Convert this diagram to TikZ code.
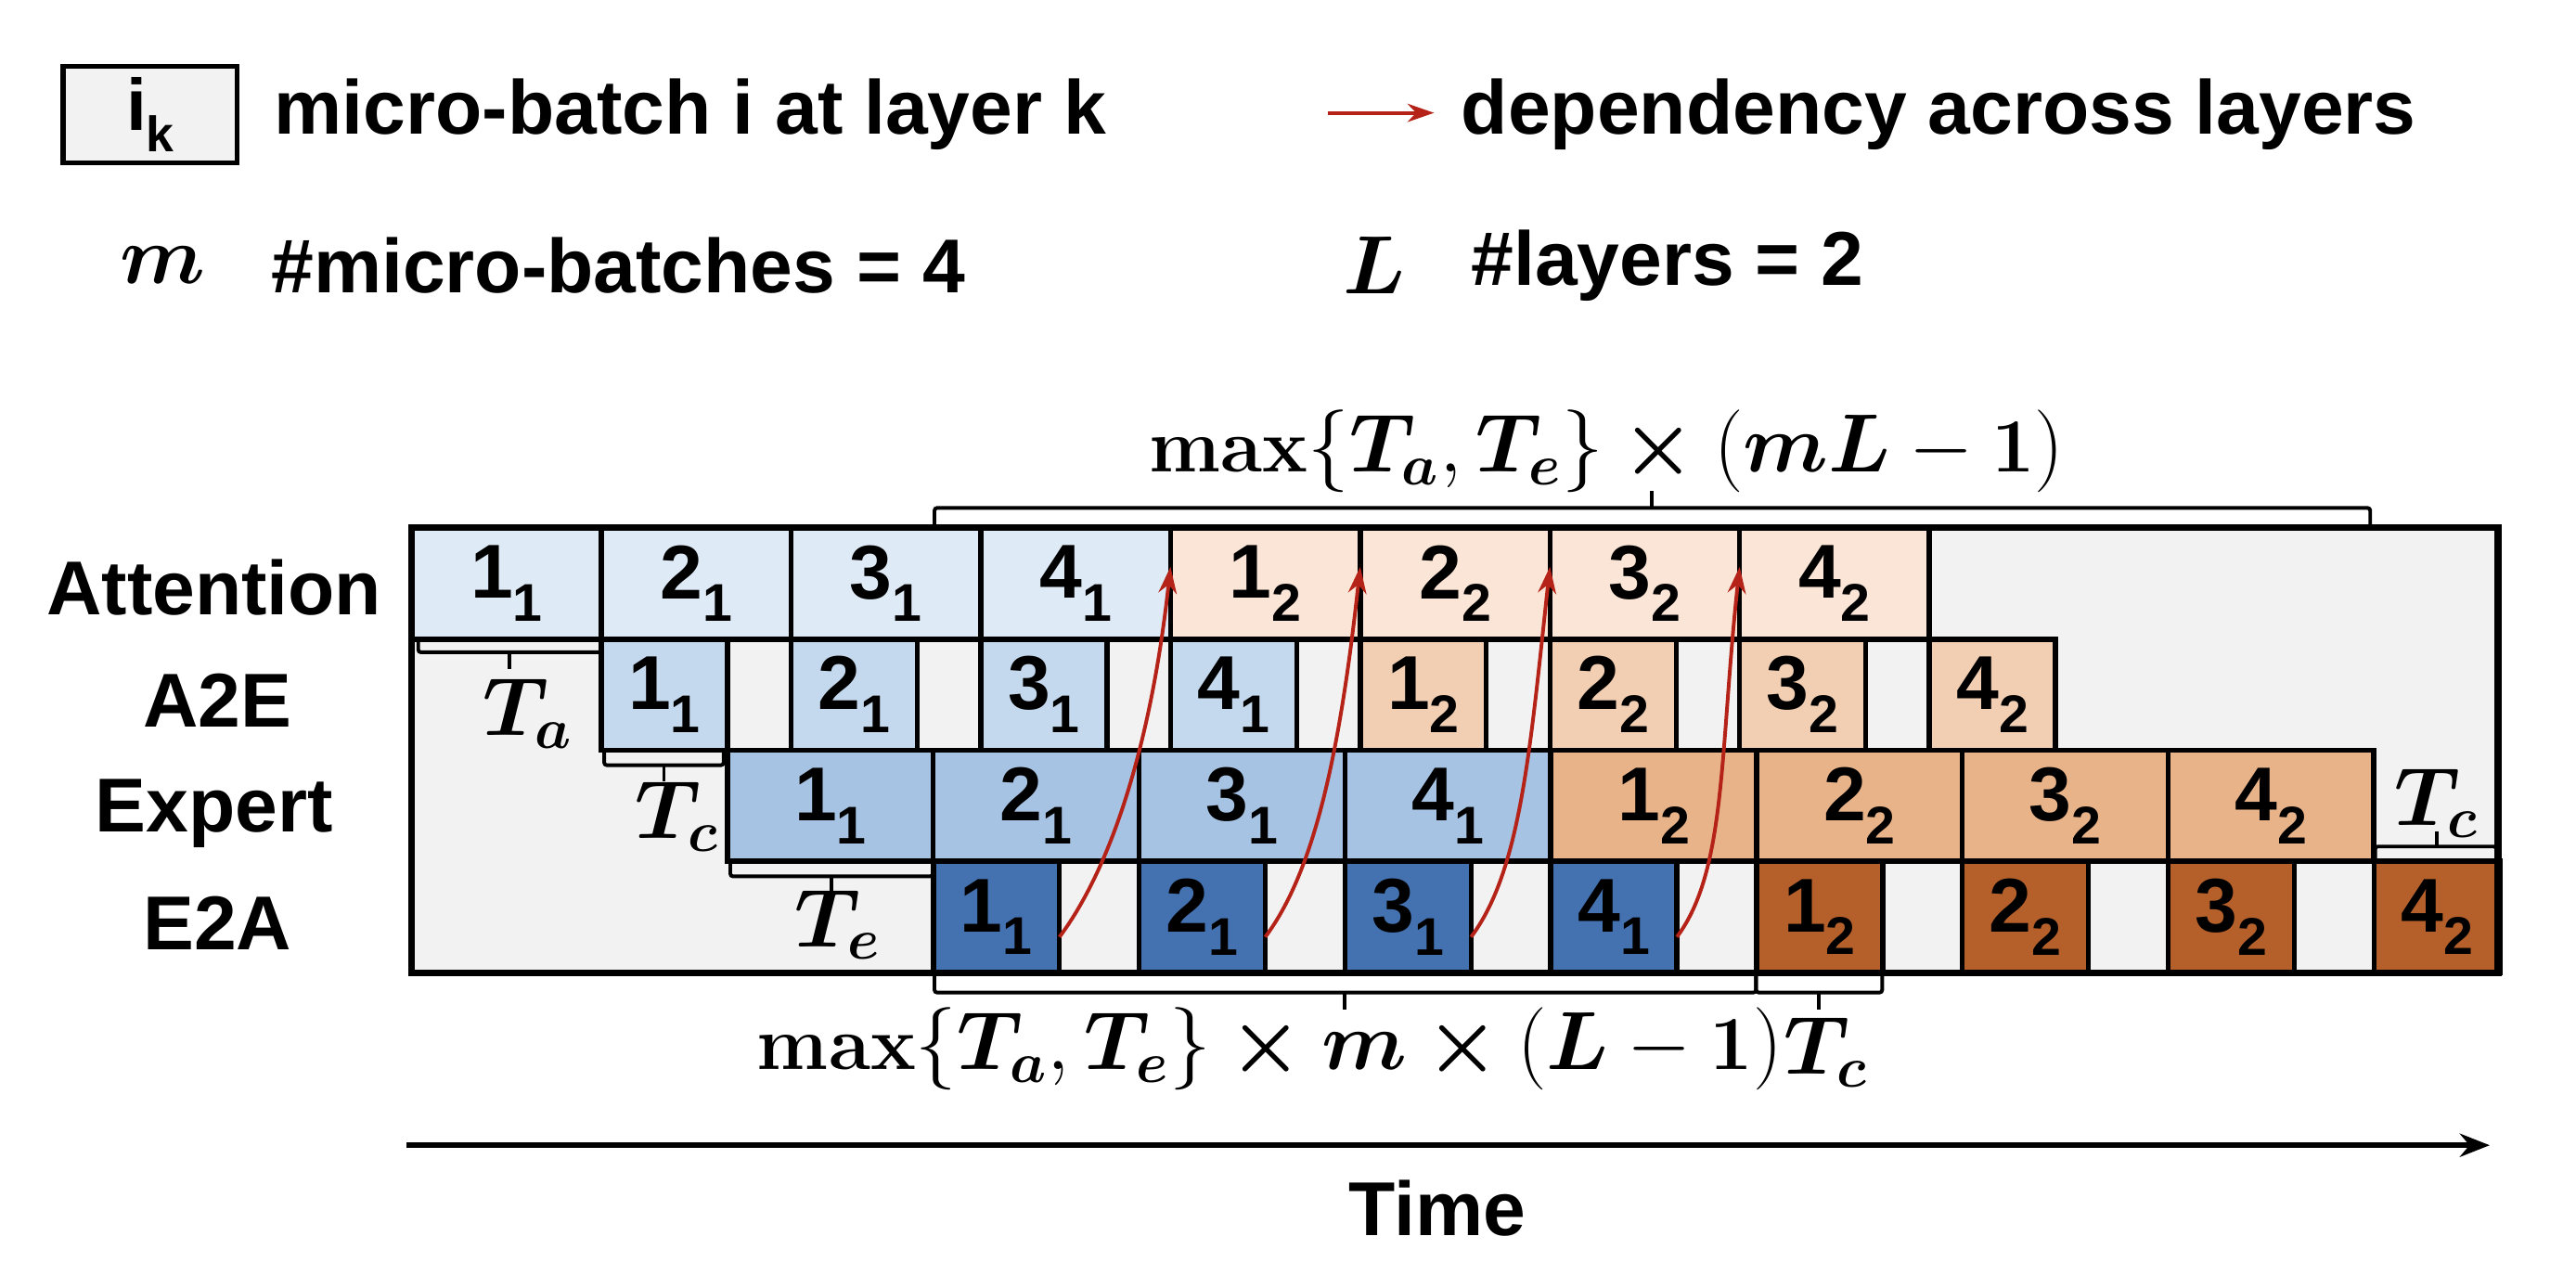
\documentclass[tikz,border=0pt]{standalone}
\usepackage{amsmath,bm}
\usepackage{fontspec}
\setmainfont{Liberation Sans}
\newfontfamily\lmr{Latin Modern Roman}
\usetikzlibrary{arrows.meta}
\definecolor{attA}{HTML}{DEEAF6}\definecolor{attB}{HTML}{FBE5D6}
\definecolor{aeA}{HTML}{C5D9EE}\definecolor{aeB}{HTML}{F2CFB3}
\definecolor{exA}{HTML}{A7C3E3}\definecolor{exB}{HTML}{E9B38A}
\definecolor{eaA}{HTML}{4472B0}\definecolor{eaB}{HTML}{B5602A}
\definecolor{bgg}{HTML}{F2F2F2}\definecolor{dep}{HTML}{B52217}
\newcommand{\lb}[2]{\fontsize{23}{23}\selectfont\bfseries #1\raisebox{-0.3em}{\fontsize{16}{16}\selectfont #2}}
\newcommand{\rb}[1]{\text{\lmr\bfseries #1}}
\begin{document}
\begin{tikzpicture}[x=0.5pt,y=-0.5pt,
  box/.style={draw=black,line width=1.5pt,inner sep=0pt,outer sep=0pt,minimum height=33.5pt,anchor=north west},
  row/.style={draw=black,line width=1.6pt},
  brk/.style={draw=black,line width=1.1pt,rounded corners=0.8pt},
  dar/.style={draw=dep,line width=1.1pt,-{Stealth[length=8pt,width=5.5pt]}},
  rl/.style={font=\fontsize{23}{23}\selectfont\bfseries},
  lt/.style={font=\fontsize{23}{23}\selectfont\bfseries,anchor=west,inner sep=0pt},
  ml/.style={font=\fontsize{23}{23}\selectfont}]
\useasboundingbox (0,0) rectangle (1552,760);
% frame
\path[fill=bgg] (248,318) rectangle (1505,586);
% rows
\foreach \i in {0,...,7}{
  \pgfmathtruncatemacro{\mb}{mod(\i,4)+1}
  \ifnum\i<4 \def\ly{1}\def\ca{attA}\def\cb{aeA}\def\cc{exA}\def\cd{eaA}
  \else \def\ly{2}\def\ca{attB}\def\cb{aeB}\def\cc{exB}\def\cd{eaB}\fi
  \node[box,fill=\ca,minimum width=57.15pt] (att\i) at ({248+114.3*\i},318) {\lb{\mb}{\ly}};
  \node[box,fill=\cb,minimum width=38pt] (ae\i) at ({362.3+114.3*\i},385) {\lb{\mb}{\ly}};
  \node[box,fill=\cc,minimum width=62pt] (ex\i) at ({438.3+124*\i},452) {\lb{\mb}{\ly}};
  \node[box,fill=\cd,minimum width=38pt] (ea\i) at ({562.3+124*\i},519) {\lb{\mb}{\ly}};
}
\draw[row] (362.3,385) rectangle (1238.4,452);
\draw[row] (438.3,452) rectangle (1430.3,519);
\draw[row] (562.3,519) rectangle (1506,586);
\draw[row] (248,318) rectangle (1162.4,385);
\draw[draw=black,line width=2pt] (248,318) rectangle (1505,586);
% dependency arrows
\foreach \i/\j in {0/4,1/5,2/6,3/7}{
  \draw[dar] ([yshift=-6pt]ea\i.east) .. controls +(30,-40) and +(-12,110) .. ([yshift=5pt]att\j.west);
}
% row labels
\node[rl] (lAtt) at (129,354) {Attention};
\node[rl] (lA2E) at (131,422) {A2E};
\node[rl] (lExp) at (129,490) {Expert};
\node[rl] (lE2A) at (131,556) {E2A};
% brackets
\draw[brk] (563,318) -- (563,306) -- (1428,306) -- (1428,318); \draw[brk] (995,306) -- (995,296);
\node[ml] (tmax) at (968,272) {$\rb{max}\{\bm{T_a},\bm{T_e}\}\boldsymbol{\times}(\bm{mL}-\rb{1})$};
\draw[brk] (252,386) -- (252,393) -- (362,393) -- (362,386); \draw[brk] (307,393) -- (307,403);
\node[ml] (ta) at (318,430) {$\bm{T_a}$};
\draw[brk] (364,453) -- (364,461) -- (436,461) -- (436,453); \draw[brk] (400,461) -- (400,471);
\node[ml] (tc1) at (408,492) {$\bm{T_c}$};
\draw[brk] (440,520) -- (440,528) -- (562,528) -- (562,520); \draw[brk] (501,528) -- (501,538);
\node[ml] (te) at (505,557) {$\bm{T_e}$};
\draw[brk] (563,587) -- (563,598) -- (1058,598) -- (1058,587); \draw[brk] (810,598) -- (810,608);
\node[ml] (tmax2) at (765,632) {$\rb{max}\{\bm{T_a},\bm{T_e}\}\boldsymbol{\times}\bm{m}\boldsymbol{\times}(\bm{L}-\rb{1})$};
\draw[brk] (1058,587) -- (1058,598) -- (1134,598) -- (1134,587); \draw[brk] (1096,598) -- (1096,608);
\node[ml] (tc2) at (1100,634) {$\bm{T_c}$};
\draw[brk] (1431,518) -- (1431,510) -- (1504,510) -- (1504,518); \draw[brk] (1468,510) -- (1468,501);
\node[ml] (tc3) at (1468,484) {$\bm{T_c}$};
% legend
\node[draw=black,line width=1.5pt,fill=bgg,minimum width=52.5pt,minimum height=29pt,inner sep=0pt,outer sep=0pt] (lg) at (90.5,69) {\fontsize{22}{22}\selectfont\bfseries i\raisebox{-0.3em}{\fontsize{15}{15}\selectfont k}};
\node[lt] (lgt) at (165,69) {micro-batch i at layer k};
\coordinate (da) at (800,68); \coordinate (db) at (864,68);
\draw[dar] (da) -- (db);
\node[lt] (dgt) at (880,69) {dependency across layers};
\node[ml] (mm) at (98,160) {$\bm{m}$};
\node[lt] (mt) at (163,160) {\#micro-batches = 4};
\node[ml] (ll) at (828,160) {$\bm{L}$};
\node[lt] (lt2) at (886,160) {\#layers = 2};
% time axis
\coordinate (t0) at (245,690); \coordinate (t1) at (1500,690);
\draw[line width=1.6pt,-{Stealth[length=9pt,width=7pt]}] (t0) -- (t1);
\node[rl] (time) at (866,728) {Time};
\end{tikzpicture}
\end{document}
